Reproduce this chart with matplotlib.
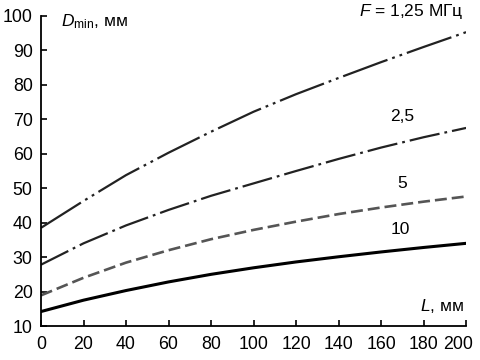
import matplotlib
matplotlib.use("Agg")
import matplotlib.pyplot as plt
import matplotlib.transforms as mtransforms
from matplotlib import font_manager

names = {f.name for f in font_manager.fontManager.ttflist}
base = 'Liberation Sans Narrow' if 'Liberation Sans Narrow' in names else 'Liberation Sans'
plt.rcParams['font.family'] = [base, 'DejaVu Sans']
plt.rcParams['mathtext.fontset'] = 'custom'
plt.rcParams['mathtext.rm'] = base
plt.rcParams['mathtext.it'] = base + ':italic'
plt.rcParams['lines.scale_dashes'] = False

L = [0, 20, 40, 60, 80, 100, 120, 140, 160, 180, 200]
d_125 = [38.5, 46.3, 53.8, 60.3, 66.4, 72.2, 77.3, 82.0, 86.6, 91.0, 95.3]
d_25 = [27.8, 34.0, 39.2, 43.7, 47.8, 51.4, 55.0, 58.5, 61.8, 64.8, 67.5]
d_5 = [18.9, 24.0, 28.4, 32.0, 35.2, 37.9, 40.3, 42.5, 44.4, 46.1, 47.6]
d_10 = [14.2, 17.5, 20.3, 22.8, 25.0, 26.9, 28.6, 30.1, 31.5, 32.8, 34.0]

x_ticks = [0, 20, 40, 60, 80, 100, 120, 140, 160, 180, 200]
y_ticks = [10, 20, 30, 40, 50, 60, 70, 80, 90, 100]

fig = plt.figure(figsize=(4.8, 3.6), dpi=100)
ax = fig.add_axes([0.0854, 0.0944, 0.971 - 0.0854, 0.9556 - 0.0944])

ax.plot(L, d_125, color='#222222', lw=1.6, dashes=(34, 3.6, 2, 3.6, 2, 3.6))
ax.plot(L, d_25, color='#222222', lw=1.6, dashes=(22, 3.6, 2, 3.6))
ax.plot(L, d_5, color='#555555', lw=1.9, dashes=(8.6, 3.6))
ax.plot(L, d_10, color='#000000', lw=2.2)

ax.set_xlim(0, 200)
ax.set_ylim(10, 100)
ax.set_xticks(x_ticks)
ax.set_yticks(y_ticks)
ax.spines['top'].set_visible(False)
ax.spines['right'].set_visible(False)
for s in ('left', 'bottom'):
    ax.spines[s].set_linewidth(1.3)
ax.tick_params(direction='in', length=4, width=1.2, labelsize=12.8)
ax.tick_params(axis='x', pad=7)
ax.tick_params(axis='y', pad=6)

fig.canvas.draw()
last = ax.get_xticklabels()[-1]
last.set_horizontalalignment('right')
last.set_transform(last.get_transform() + mtransforms.ScaledTranslation(7 / 100, 0, fig.dpi_scale_trans))

fs = 12.5
ax.text(9.5, 98.3, r'$D_{\mathrm{min}}$, мм', fontsize=fs, ha='left', va='center')
ax.text(199, 101.2, r'$F$ = 1,25 МГц', fontsize=fs, ha='right', va='center')
ax.text(170, 70.8, '2,5', fontsize=fs, ha='center', va='center')
ax.text(170, 51.3, '5', fontsize=fs, ha='center', va='center')
ax.text(169, 38.0, '10', fontsize=fs, ha='center', va='center')
ax.text(199, 15.8, r'$L$, мм', fontsize=fs, ha='right', va='center')

fig.savefig('out.png', dpi=100)
